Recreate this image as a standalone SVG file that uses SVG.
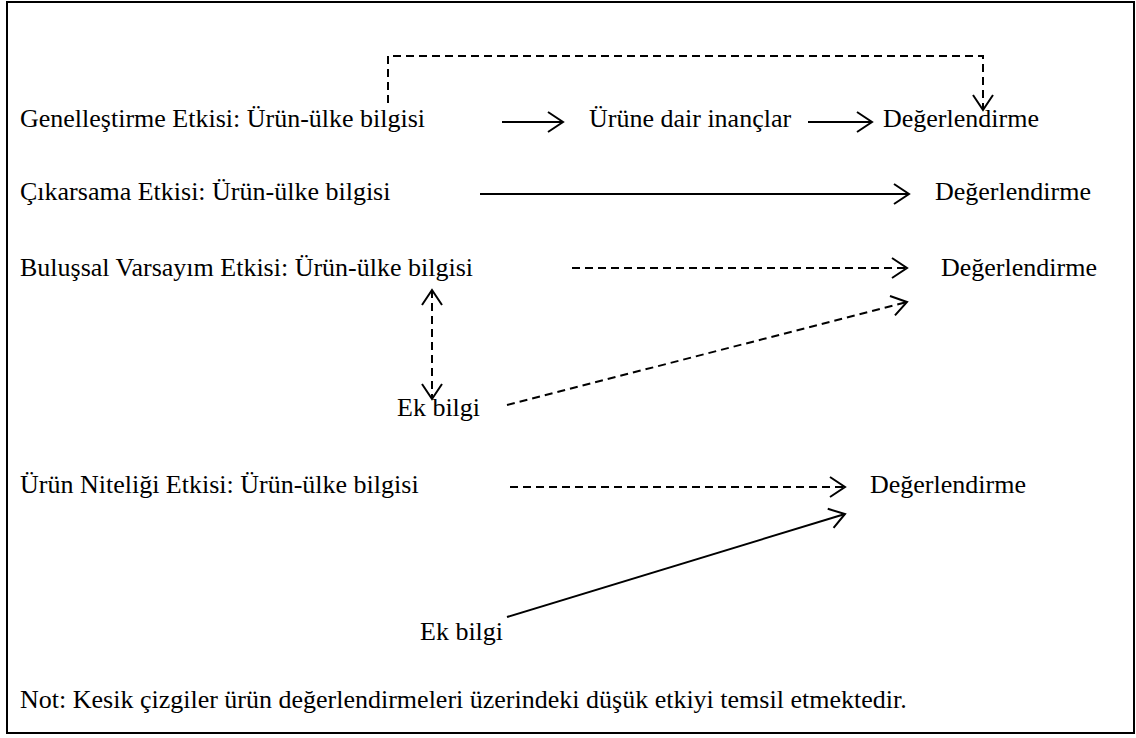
<svg xmlns="http://www.w3.org/2000/svg" width="1136" height="738" viewBox="0 0 1136 738">
  <style>
    text { font-family: 'Liberation Serif', 'DejaVu Serif', serif; font-size: 26px; fill: #000; }
    .ln { fill: none; stroke: #000; stroke-width: 2; }
    .dash { stroke-dasharray: 8 5; }
  </style>
  <defs>
    <!-- open chevron arrowhead, kept solid on dashed lines -->
    <marker id="head" markerUnits="userSpaceOnUse" viewBox="-17 -12 19 24" refX="0" refY="0" markerWidth="19" markerHeight="24" orient="auto-start-reverse">
      <path d="M-15,-10 L0,0 L-15,10" fill="none" stroke="#000" stroke-width="2"/>
    </marker>
  </defs>

  <!-- frame -->
  <rect x="7" y="2" width="1127" height="731" fill="#fff" stroke="#000" stroke-width="2"/>

  <g id="connectors">
    <path class="ln" d="M502,122 H563" marker-end="url(#head)"/>
    <path class="ln" d="M808,122 H872" marker-end="url(#head)"/>
    <path class="ln dash" d="M388,103 V56 H983 V110" marker-end="url(#head)"/>
    <path class="ln" d="M480,194 H909" marker-end="url(#head)"/>
    <path class="ln dash" d="M572,268 H907" marker-end="url(#head)"/>
    <path class="ln dash" d="M432,290 V399" marker-start="url(#head)" marker-end="url(#head)"/>
    <path class="ln dash" d="M507,405 L907,302" marker-end="url(#head)"/>
    <path class="ln dash" d="M510,487 H845" marker-end="url(#head)"/>
    <path class="ln" d="M507,617 L845,514" marker-end="url(#head)"/>
  </g>

  <g id="genellestirme">
    <text x="20" y="127">Genelleştirme Etkisi: Ürün-ülke bilgisi</text>
  </g>
  <g id="inanclar">
    <text x="589" y="127">Ürüne dair inançlar</text>
  </g>
  <g id="degerlendirme-1">
    <text x="883" y="127">Değerlendirme</text>
  </g>
  <g id="cikarsama">
    <text x="20" y="200">Çıkarsama Etkisi: Ürün-ülke bilgisi</text>
  </g>
  <g id="degerlendirme-2">
    <text x="935" y="200">Değerlendirme</text>
  </g>
  <g id="bulussal">
    <text x="20" y="276">Buluşsal Varsayım Etkisi: Ürün-ülke bilgisi</text>
  </g>
  <g id="degerlendirme-3">
    <text x="941" y="276">Değerlendirme</text>
  </g>
  <g id="ek-bilgi-1">
    <text x="397" y="416">Ek bilgi</text>
  </g>
  <g id="urun-niteligi">
    <text x="20" y="493">Ürün Niteliği Etkisi: Ürün-ülke bilgisi</text>
  </g>
  <g id="degerlendirme-4">
    <text x="870" y="493">Değerlendirme</text>
  </g>
  <g id="ek-bilgi-2">
    <text x="420" y="640">Ek bilgi</text>
  </g>
  <g id="note">
    <text x="20" y="708">Not: Kesik çizgiler ürün değerlendirmeleri üzerindeki düşük etkiyi temsil etmektedir.</text>
  </g>
</svg>
